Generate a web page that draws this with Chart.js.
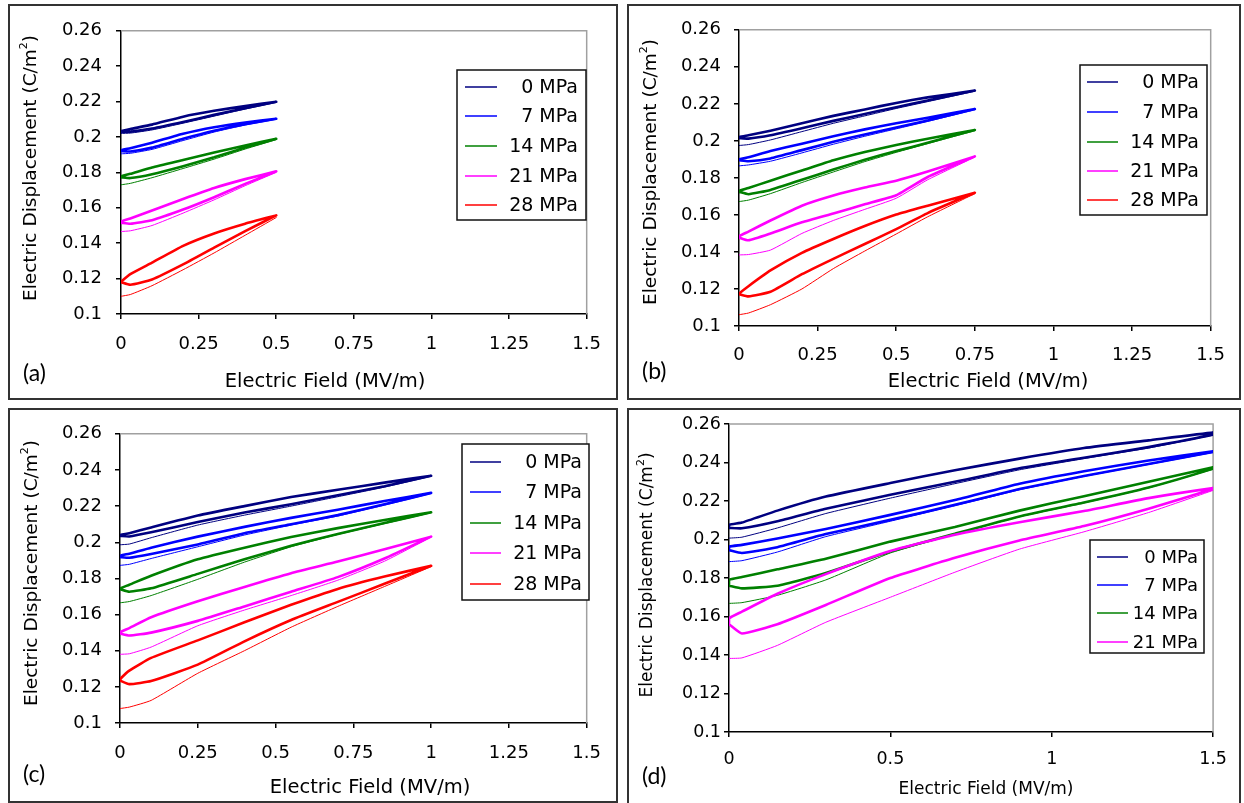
<!DOCTYPE html>
<html>
<head>
<meta charset="utf-8">
<script src="https://cdn.jsdelivr.net/npm/chart.js@4.4.0/dist/chart.umd.min.js"></script>
<style>
  body { margin: 0; background: #fff; width: 1244px; height: 803px; position: relative; overflow: hidden; }
  .panel { position: absolute; border: 2px solid #333; box-sizing: border-box; background: #fff; }
  .panel canvas { display: block; }
</style>
</head>
<body>
<div class="panel" style="left:8px;top:4px;width:610px;height:396px"><canvas id="chartA"></canvas></div>
<div class="panel" style="left:627px;top:4px;width:614px;height:396px"><canvas id="chartB"></canvas></div>
<div class="panel" style="left:8px;top:408px;width:610px;height:395px"><canvas id="chartC"></canvas></div>
<div class="panel" style="left:627px;top:408px;width:614px;height:397px"><canvas id="chartD"></canvas></div>
<script>
// legend labels and colours
const pressures = ['0 MPa', '7 MPa', '14 MPa', '21 MPa', '28 MPa'];
const lineColors = ['#000080', '#0000ff', '#008000', '#ff00ff', '#ff0000'];

// tick values
const yTickValues = [0.1, 0.12, 0.14, 0.16, 0.18, 0.2, 0.22, 0.24, 0.26];
const xTickValuesABC = [0, 0.25, 0.5, 0.75, 1, 1.25, 1.5];
const xTickValuesD = [0, 0.5, 1, 1.5];

// (a) max field 0.5 MV/m
const fieldA = [0, 0.03, 0.1, 0.2, 0.3, 0.4, 0.5];
const upperA = [
    [0.2033, 0.2045, 0.2070, 0.2115, 0.2148, 0.2175, 0.2199],
    [0.1925, 0.1937, 0.1968, 0.2018, 0.2055, 0.2082, 0.2103],
    [0.1778, 0.1792, 0.1828, 0.1870, 0.1912, 0.1952, 0.1990],
    [0.1522, 0.1540, 0.1585, 0.1650, 0.1712, 0.1762, 0.1806],
    [0.1182, 0.1225, 0.1290, 0.1385, 0.1455, 0.1510, 0.1557]
];
const lowerA = [
    [0.2030, 0.2030, 0.2048, 0.2085, 0.2125, 0.2162, 0.2199],
    [0.1920, 0.1918, 0.1940, 0.1990, 0.2035, 0.2072, 0.2103],
    [0.1772, 0.1768, 0.1790, 0.1835, 0.1885, 0.1940, 0.1990],
    [0.1515, 0.1510, 0.1530, 0.1590, 0.1660, 0.1735, 0.1806],
    [0.1180, 0.1165, 0.1195, 0.1280, 0.1375, 0.1468, 0.1557]
];
const firstA = [
    [0.2020, 0.2022, 0.2040, 0.2078, 0.2118, 0.2158, 0.2195],
    [0.1905, 0.1908, 0.1930, 0.1980, 0.2028, 0.2068, 0.2100],
    [0.1730, 0.1738, 0.1770, 0.1822, 0.1875, 0.1932, 0.1985],
    [0.1466, 0.1470, 0.1500, 0.1570, 0.1645, 0.1725, 0.1800],
    [0.1100, 0.1110, 0.1160, 0.1250, 0.1345, 0.1445, 0.1545]
];

// (b) max field 0.75 MV/m
const fieldB = [0, 0.03, 0.1, 0.2, 0.3, 0.4, 0.5, 0.6, 0.75];
const upperB = [
    [0.2020, 0.2030, 0.2055, 0.2095, 0.2135, 0.2170, 0.2205, 0.2235, 0.2272],
    [0.1900, 0.1912, 0.1945, 0.1985, 0.2025, 0.2062, 0.2095, 0.2125, 0.2172],
    [0.1730, 0.1745, 0.1785, 0.1840, 0.1895, 0.1940, 0.1978, 0.2012, 0.2059],
    [0.1485, 0.1510, 0.1570, 0.1650, 0.1705, 0.1748, 0.1785, 0.1834, 0.1916],
    [0.1175, 0.1215, 0.1300, 0.1395, 0.1470, 0.1540, 0.1602, 0.1650, 0.1720]
];
const lowerB = [
    [0.2015, 0.2012, 0.2030, 0.2068, 0.2108, 0.2145, 0.2182, 0.2218, 0.2272],
    [0.1895, 0.1890, 0.1905, 0.1950, 0.1995, 0.2035, 0.2072, 0.2110, 0.2172],
    [0.1725, 0.1712, 0.1735, 0.1790, 0.1845, 0.1898, 0.1945, 0.1990, 0.2059],
    [0.1478, 0.1463, 0.1500, 0.1560, 0.1608, 0.1657, 0.1706, 0.1805, 0.1916],
    [0.1172, 0.1160, 0.1185, 0.1280, 0.1363, 0.1443, 0.1523, 0.1610, 0.1720]
];
const firstB = [
    [0.1975, 0.1980, 0.2005, 0.2050, 0.2095, 0.2135, 0.2175, 0.2212, 0.2268],
    [0.1865, 0.1870, 0.1890, 0.1935, 0.1982, 0.2025, 0.2065, 0.2105, 0.2168],
    [0.1672, 0.1680, 0.1715, 0.1775, 0.1832, 0.1888, 0.1938, 0.1985, 0.2055],
    [0.1384, 0.1386, 0.1410, 0.1500, 0.1570, 0.1630, 0.1690, 0.1790, 0.1912],
    [0.1061, 0.1070, 0.1115, 0.1200, 0.1310, 0.1405, 0.1497, 0.1590, 0.1715]
];

// (c) max field 1.0 MV/m
const fieldC = [0, 0.03, 0.1, 0.25, 0.4, 0.55, 0.7, 0.85, 1.0];
const upperC = [
    [0.2040, 0.2050, 0.2082, 0.2148, 0.2200, 0.2250, 0.2290, 0.2330, 0.2368],
    [0.1925, 0.1937, 0.1970, 0.2031, 0.2085, 0.2135, 0.2180, 0.2228, 0.2273],
    [0.1745, 0.1765, 0.1815, 0.1906, 0.1970, 0.2029, 0.2078, 0.2123, 0.2166],
    [0.1502, 0.1525, 0.1585, 0.1673, 0.1753, 0.1829, 0.1893, 0.1961, 0.2031],
    [0.1242, 0.1290, 0.1360, 0.1457, 0.1557, 0.1654, 0.1742, 0.1810, 0.1870]
];
const lowerC = [
    [0.2035, 0.2032, 0.2055, 0.2112, 0.2165, 0.2210, 0.2260, 0.2310, 0.2368],
    [0.1918, 0.1914, 0.1935, 0.1988, 0.2050, 0.2100, 0.2150, 0.2210, 0.2273],
    [0.1740, 0.1726, 0.1745, 0.1825, 0.1906, 0.1981, 0.2046, 0.2106, 0.2166],
    [0.1495, 0.1484, 0.1500, 0.1565, 0.1645, 0.1726, 0.1807, 0.1910, 0.2031],
    [0.1235, 0.1215, 0.1232, 0.1323, 0.1452, 0.1570, 0.1670, 0.1770, 0.1870]
];
const firstC = [
    [0.1986, 0.1990, 0.2025, 0.2095, 0.2150, 0.2200, 0.2252, 0.2305, 0.2365],
    [0.1872, 0.1878, 0.1910, 0.1975, 0.2040, 0.2095, 0.2145, 0.2205, 0.2270],
    [0.1665, 0.1672, 0.1705, 0.1795, 0.1890, 0.1975, 0.2043, 0.2103, 0.2163],
    [0.1380, 0.1383, 0.1420, 0.1538, 0.1625, 0.1705, 0.1790, 0.1895, 0.2028],
    [0.1080, 0.1088, 0.1125, 0.1275, 0.1400, 0.1530, 0.1645, 0.1755, 0.1865]
];

// (d) max field 1.5 MV/m, no 28 MPa run
const fieldD = [0, 0.04, 0.15, 0.3, 0.5, 0.7, 0.9, 1.1, 1.3, 1.5];
const upperD = [
    [0.2076, 0.2088, 0.2150, 0.2223, 0.2293, 0.2360, 0.2420, 0.2475, 0.2515, 0.2555],
    [0.1963, 0.1972, 0.2005, 0.2055, 0.2128, 0.2205, 0.2290, 0.2355, 0.2410, 0.2458],
    [0.1790, 0.1805, 0.1845, 0.1900, 0.1989, 0.2065, 0.2150, 0.2225, 0.2300, 0.2375],
    [0.1590, 0.1625, 0.1718, 0.1820, 0.1940, 0.2025, 0.2090, 0.2148, 0.2215, 0.2267]
];
const lowerD = [
    [0.2060, 0.2058, 0.2095, 0.2160, 0.2232, 0.2300, 0.2370, 0.2425, 0.2480, 0.2545],
    [0.1945, 0.1930, 0.1960, 0.2028, 0.2102, 0.2180, 0.2262, 0.2330, 0.2392, 0.2455],
    [0.1760, 0.1746, 0.1760, 0.1826, 0.1937, 0.2030, 0.2120, 0.2192, 0.2270, 0.2368],
    [0.1560, 0.1512, 0.1560, 0.1660, 0.1800, 0.1905, 0.1995, 0.2070, 0.2160, 0.2262]
];
const firstD = [
    [0.2007, 0.2012, 0.2060, 0.2135, 0.2215, 0.2290, 0.2362, 0.2420, 0.2475, 0.2542],
    [0.1885, 0.1890, 0.1935, 0.2015, 0.2095, 0.2175, 0.2258, 0.2328, 0.2390, 0.2452],
    [0.1668, 0.1672, 0.1710, 0.1790, 0.1930, 0.2027, 0.2118, 0.2190, 0.2268, 0.2365],
    [0.1382, 0.1385, 0.1450, 0.1570, 0.1700, 0.1830, 0.1950, 0.2040, 0.2140, 0.2255]
];

Chart.defaults.font.family = '"DejaVu Sans", sans-serif';
Chart.defaults.color = '#000';

// build the datasets: first loading curve (thin) + the cycling loop (thicker)
function buildDatasets(field, upper, lower, first) {
    const sets = [];
    upper.forEach((up, k) => {
        const low = lower[k];
        const loop = field.map((e, i) => ({ x: e, y: low[i] }));
        for (let i = field.length - 1; i >= 0; i--) loop.push({ x: field[i], y: up[i] });
        loop.push({ x: field[0], y: low[0] });
        sets.push({
            label: pressures[k] + ' first',
            data: field.map((e, i) => ({ x: e, y: first[k][i] })),
            borderColor: lineColors[k],
            borderWidth: 1,
            order: 100 - k * 2
        });
        sets.push({
            label: pressures[k],
            data: loop,
            borderColor: lineColors[k],
            borderWidth: 2.6,
            order: 99 - k * 2
        });
    });
    return sets;
}

// draws plot frame, legend box, axis titles and panel letter
function decorPlugin(p) {
    const ox = p.box[0] + 2, oy = p.box[1] + 2;
    return {
        id: 'decor',
        beforeDatasetsDraw(chart) {
            const { ctx, chartArea: a } = chart;
            ctx.save();
            ctx.strokeStyle = '#a0a0a0';
            ctx.lineWidth = 1.5;
            ctx.beginPath();
            ctx.moveTo(a.left, a.top);
            ctx.lineTo(a.right, a.top);
            ctx.lineTo(a.right, a.bottom);
            ctx.stroke();
            ctx.restore();
        },
        afterDraw(chart) {
            const ctx = chart.ctx;
            ctx.save();
            // legend
            const lg = p.legend;
            ctx.fillStyle = '#fff';
            ctx.fillRect(lg.box[0] - ox, lg.box[1] - oy, lg.box[2] - lg.box[0], lg.box[3] - lg.box[1]);
            ctx.strokeStyle = '#111';
            ctx.lineWidth = 1.5;
            ctx.strokeRect(lg.box[0] - ox, lg.box[1] - oy, lg.box[2] - lg.box[0], lg.box[3] - lg.box[1]);
            ctx.font = p.legendFont + 'px "DejaVu Sans"';
            ctx.textAlign = 'right';
            ctx.textBaseline = 'middle';
            lg.rows.forEach((ry, k) => {
                ctx.strokeStyle = lineColors[k];
                ctx.lineWidth = 1.5;
                ctx.beginPath();
                ctx.moveTo(lg.line[0] - ox, ry - oy);
                ctx.lineTo(lg.line[1] - ox, ry - oy);
                ctx.stroke();
                ctx.fillStyle = '#000';
                ctx.fillText(pressures[k], lg.textRight - ox, ry - oy + 1);
            });
            // x title
            ctx.textAlign = 'center';
            ctx.font = p.xTitleFont + 'px "DejaVu Sans"';
            ctx.fillText('Electric Field (MV/m)', p.xTitle[0] - ox, p.xTitle[1] - oy);
            // y title with superscript
            ctx.translate(p.yTitle[0] - ox, p.yTitle[1] - oy);
            ctx.rotate(-Math.PI / 2);
            const main = 'Electric Displacement (C/m';
            const big = p.yTitleFont + 'px "DejaVu Sans"';
            const small = Math.round(p.yTitleFont * 0.62) + 'px "DejaVu Sans"';
            ctx.font = big;
            const w1 = ctx.measureText(main).width, w3 = ctx.measureText(')').width;
            ctx.font = small;
            const w2 = ctx.measureText('2').width;
            let sx = -(w1 + w2 + w3) / 2;
            ctx.textAlign = 'left';
            ctx.font = big;
            ctx.fillText(main, sx, 0);
            ctx.font = small;
            ctx.fillText('2', sx + w1, -p.yTitleFont * 0.38);
            ctx.font = big;
            ctx.fillText(')', sx + w1 + w2, 0);
            ctx.setTransform(1, 0, 0, 1, 0, 0);
            // panel letter
            ctx.font = '23px Lato, "Open Sans", sans-serif';
            ctx.textAlign = 'left';
            ctx.fillText(p.letter, p.letterPos[0] - ox, p.letterPos[1] - oy);
            ctx.restore();
        }
    };
}

function makePanel(id, p, field, upper, lower, first) {
    const canvas = document.getElementById(id);
    const cw = p.box[2] - 4, ch = p.box[3] - 4;
    canvas.width = cw;
    canvas.height = ch;
    const ox = p.box[0] + 2, oy = p.box[1] + 2;
    const [L, R, T, B] = p.plot;
    new Chart(canvas, {
        type: 'scatter',
        data: { datasets: buildDatasets(field, upper, lower, first) },
        options: {
            responsive: false,
            animation: false,
            devicePixelRatio: 1,
            showLine: true,
            elements: {
                point: { radius: 0 },
                line: { tension: 0.15, fill: false, borderJoinStyle: 'round', borderCapStyle: 'round' }
            },
            layout: { padding: { left: 0, top: T - oy, right: ox + cw - R, bottom: 0 } },
            plugins: { legend: { display: false }, tooltip: { enabled: false } },
            scales: {
                x: {
                    type: 'linear', min: 0, max: 1.5,
                    afterBuildTicks: s => { s.ticks = p.xTicks.map(v => ({ value: v })); },
                    afterFit: s => { s.height = oy + ch - B; },
                    grid: { drawOnChartArea: false, drawTicks: true, tickLength: 5, color: '#000', lineWidth: 1.5 },
                    border: { color: '#000', width: 1.5 },
                    ticks: { font: { size: p.font }, padding: p.xPad, maxRotation: 0, autoSkip: false, callback: v => String(v) }
                },
                y: {
                    type: 'linear', min: 0.1, max: 0.26,
                    afterBuildTicks: s => { s.ticks = yTickValues.map(v => ({ value: v })); },
                    afterFit: s => { s.width = L - ox; },
                    grid: { drawOnChartArea: false, drawTicks: true, tickLength: 5, color: '#000', lineWidth: 1.5 },
                    border: { color: '#000', width: 1.5 },
                    ticks: { font: { size: p.font }, padding: p.yPad, autoSkip: false, callback: v => String(+v.toFixed(2)) }
                }
            }
        },
        plugins: [decorPlugin(p)]
    });
}

makePanel('chartA', {
    box: [8, 4, 610, 396], plot: [121, 596, 23, 314], xTicks: xTickValuesABC,
    font: 18, legendFont: 19, xTitleFont: 19.5, yTitleFont: 18.5, xPad: 15, yPad: 14,
    legend: { box: [457, 70, 586, 220], rows: [87, 116, 146, 176, 205], line: [465, 497], textRight: 578 },
    xTitle: [325, 382], yTitle: [31, 168], letter: '(a)', letterPos: [23, 374]
}, fieldA, upperA, lowerA, firstA);

makePanel('chartB', {
    box: [627, 4, 614, 396], plot: [739, 1215, 22, 326], xTicks: xTickValuesABC,
    font: 18, legendFont: 19, xTitleFont: 19.5, yTitleFont: 18.5, xPad: 14, yPad: 13,
    legend: { box: [1080, 65, 1207, 215], rows: [82, 112, 142, 171, 200], line: [1087, 1118], textRight: 1199 },
    xTitle: [988, 382], yTitle: [651, 172], letter: '(b)', letterPos: [642, 372]
}, fieldB, upperB, lowerB, firstB);

makePanel('chartC', {
    box: [8, 408, 610, 395], plot: [120, 596, 426, 723], xTicks: xTickValuesABC,
    font: 18, legendFont: 19, xTitleFont: 19.5, yTitleFont: 18.5, xPad: 15, yPad: 13,
    legend: { box: [462, 444, 589, 600], rows: [462, 492, 523, 553, 584], line: [470, 501], textRight: 582 },
    xTitle: [370, 788], yTitle: [32, 573], letter: '(c)', letterPos: [23, 775]
}, fieldC, upperC, lowerC, firstC);

makePanel('chartD', {
    box: [627, 408, 614, 397], plot: [729, 1224, 424, 732], xTicks: xTickValuesD,
    font: 17.5, legendFont: 18, xTitleFont: 17, yTitleFont: 17, xPad: 12, yPad: 3,
    legend: { box: [1090, 540, 1204, 653], rows: [557, 585, 613, 642], line: [1097, 1128], textRight: 1198 },
    xTitle: [986, 790], yTitle: [648, 575], letter: '(d)', letterPos: [642, 777]
}, fieldD, upperD, lowerD, firstD);
</script>
</body>
</html>
